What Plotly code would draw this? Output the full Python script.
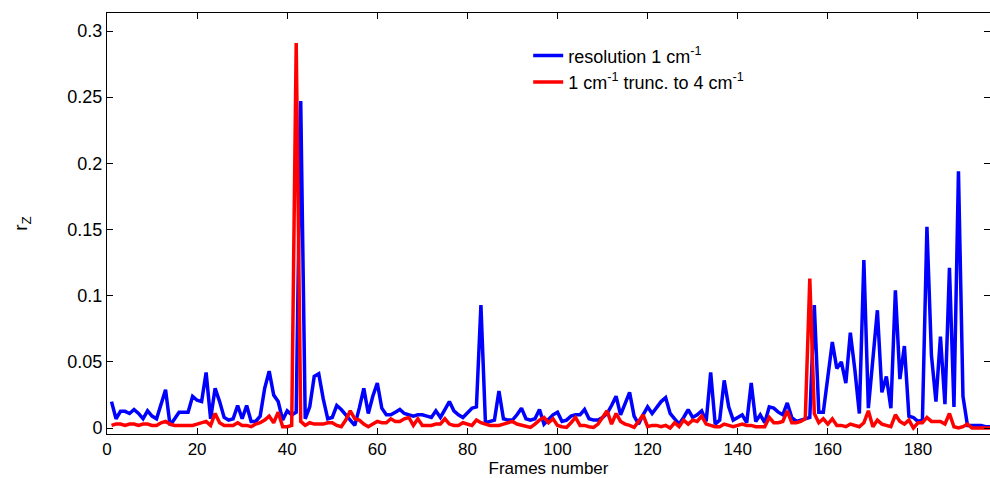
import plotly.graph_objects as go

frames = list(range(1, 197))

blue_res1 = [
    0.020, 0.007, 0.0126, 0.0126, 0.011, 0.014, 0.011, 0.007, 0.013, 0.009,
    0.007, 0.018, 0.029, 0.002, 0.007, 0.012, 0.012, 0.012, 0.024, 0.021,
    0.020, 0.042, 0.007, 0.030, 0.020, 0.008, 0.006, 0.007, 0.017, 0.007,
    0.017, 0.005, 0.005, 0.009, 0.030, 0.043, 0.025, 0.020, 0.006, 0.013,
    0.010, 0.012, 0.247, 0.007, 0.016, 0.039, 0.041, 0.022, 0.007, 0.008,
    0.017, 0.014, 0.010, 0.006, 0.002, 0.015, 0.030, 0.011, 0.024, 0.034,
    0.015, 0.010, 0.010, 0.012, 0.014, 0.011, 0.010, 0.009, 0.010, 0.010,
    0.009, 0.008, 0.013, 0.008, 0.014, 0.020, 0.013, 0.010, 0.008, 0.012,
    0.015, 0.016, 0.093, 0.004, 0.005, 0.006, 0.028, 0.007, 0.006, 0.006,
    0.010, 0.015, 0.007, 0.006, 0.007, 0.014, 0.003, 0.007, 0.010, 0.012,
    0.005, 0.006, 0.009, 0.010, 0.010, 0.014, 0.007, 0.006, 0.006, 0.008,
    0.011, 0.017, 0.024, 0.010, 0.018, 0.027, 0.009, 0.003, 0.010, 0.016,
    0.011, 0.016, 0.020, 0.023, 0.011, 0.007, 0.003, 0.008, 0.014, 0.008,
    0.010, 0.013, 0.005, 0.042, 0.003, 0.006, 0.036, 0.016, 0.006, 0.008,
    0.010, 0.004, 0.034, 0.005, 0.010, 0.004, 0.016, 0.015, 0.012, 0.010,
    0.019, 0.008, 0.005, 0.006, 0.007, 0.008, 0.093, 0.012, 0.012, 0.038,
    0.065, 0.045, 0.050, 0.034, 0.072, 0.044, 0.011, 0.127, 0.015, 0.052,
    0.089, 0.027, 0.039, 0.015, 0.104, 0.037, 0.062, 0.009, 0.008, 0.005,
    0.006, 0.152, 0.055, 0.020, 0.069, 0.018, 0.121, 0.016, 0.194, 0.024,
    0.002, 0.002, 0.002, 0.002, 0.001, 0.001,
]

red_trunc4 = [
    0.002, 0.003, 0.003, 0.002, 0.003, 0.003, 0.002, 0.003, 0.003, 0.002,
    0.002, 0.004, 0.005, 0.003, 0.002, 0.002, 0.002, 0.002, 0.002, 0.003,
    0.004, 0.005, 0.002, 0.011, 0.004, 0.002, 0.002, 0.002, 0.004, 0.002,
    0.002, 0.001, 0.003, 0.004, 0.006, 0.009, 0.004, 0.012, 0.001, 0.001,
    0.002, 0.291, 0.005, 0.002, 0.004, 0.003, 0.003, 0.003, 0.004, 0.004,
    0.002, 0.001, 0.006, 0.013, 0.007, 0.006, 0.003, 0.001, 0.003, 0.005,
    0.004, 0.004, 0.007, 0.005, 0.005, 0.007, 0.008, 0.002, 0.007, 0.002,
    0.002, 0.002, 0.003, 0.003, 0.007, 0.003, 0.002, 0.002, 0.004, 0.003,
    0.002, 0.006, 0.004, 0.003, 0.002, 0.002, 0.002, 0.003, 0.004, 0.005,
    0.003, 0.002, 0.001, 0.0005, 0.003, 0.006, 0.008, 0.004, 0.007, 0.002,
    0.001, 0.0005, 0.004, 0.008, 0.002, 0.002, 0.001, 0.0005, 0.003, 0.008,
    0.013, 0.003, 0.011, 0.005, 0.003, 0.002, 0.0005, 0.005, 0.010, 0.001,
    0.002, 0.002, 0.001, 0.002, 0.000, 0.004, 0.001, 0.006, 0.003, 0.006,
    0.005, 0.009, 0.003, 0.002, 0.001, 0.001, 0.003, 0.002, 0.001, 0.002,
    0.003, 0.002, 0.002, 0.001, 0.001, 0.001, 0.008, 0.004, 0.004, 0.005,
    0.013, 0.004, 0.004, 0.005, 0.007, 0.113, 0.011, 0.004, 0.007, 0.003,
    0.007, 0.002, 0.002, 0.001, 0.003, 0.002, 0.001, 0.004, 0.013, 0.001,
    0.006, 0.003, 0.002, 0.001, 0.010, 0.005, 0.003, 0.006, 0.000, 0.004,
    0.004, 0.008, 0.005, 0.005, 0.005, 0.003, 0.011, 0.001, 0.000, 0.001,
    0.003, 0.000, 0.000, 0.000, 0.000, 0.000,
]

x_ticks = [0, 20, 40, 60, 80, 100, 120, 140, 160, 180]
y_ticks = [0, 0.05, 0.1, 0.15, 0.2, 0.25, 0.3]
y_tick_text = ["0", "0.05", "0.1", "0.15", "0.2", "0.25", "0.3"]

FONT = "Arial, Liberation Sans, Helvetica, sans-serif"

fig = go.Figure()
fig.add_trace(go.Scatter(
    x=frames, y=blue_res1, mode="lines",
    name="resolution 1 cm<sup>-1</sup>",
    line=dict(color="#0000FF", width=3.5),
))
fig.add_trace(go.Scatter(
    x=frames, y=red_trunc4, mode="lines",
    name="1 cm<sup>-1</sup> trunc. to 4 cm<sup>-1</sup>",
    line=dict(color="#FF0000", width=3.5),
))

axis_common = dict(
    showline=True, linecolor="black", linewidth=1, mirror="allticks",
    ticks="inside", ticklen=6, tickcolor="black", tickwidth=1,
    showgrid=False, zeroline=False,
)

fig.update_layout(
    width=990, height=478,
    margin=dict(l=107, r=0, t=13, b=44),
    paper_bgcolor="white", plot_bgcolor="white",
    font=dict(family=FONT, size=18, color="black"),
    xaxis=dict(range=[0, 196], tickvals=x_ticks,
               tickfont=dict(family=FONT, size=17, color="black"),
               title=dict(text="Frames number", standoff=0,
                          font=dict(family=FONT, size=17)),
               **axis_common),
    yaxis=dict(range=[-0.0045, 0.3136], tickvals=y_ticks, ticktext=y_tick_text,
               tickfont=dict(family=FONT, size=18, color="black"),
               title=dict(text="r<sub>Z</sub>", standoff=34,
                          font=dict(family=FONT, size=19)),
               **axis_common),
    legend=dict(x=0.477, y=0.942, xanchor="left", yanchor="top",
                bgcolor="rgba(0,0,0,0)", borderwidth=0,
                font=dict(family=FONT, size=18)),
    showlegend=True,
)

fig.write_html("out.html")
